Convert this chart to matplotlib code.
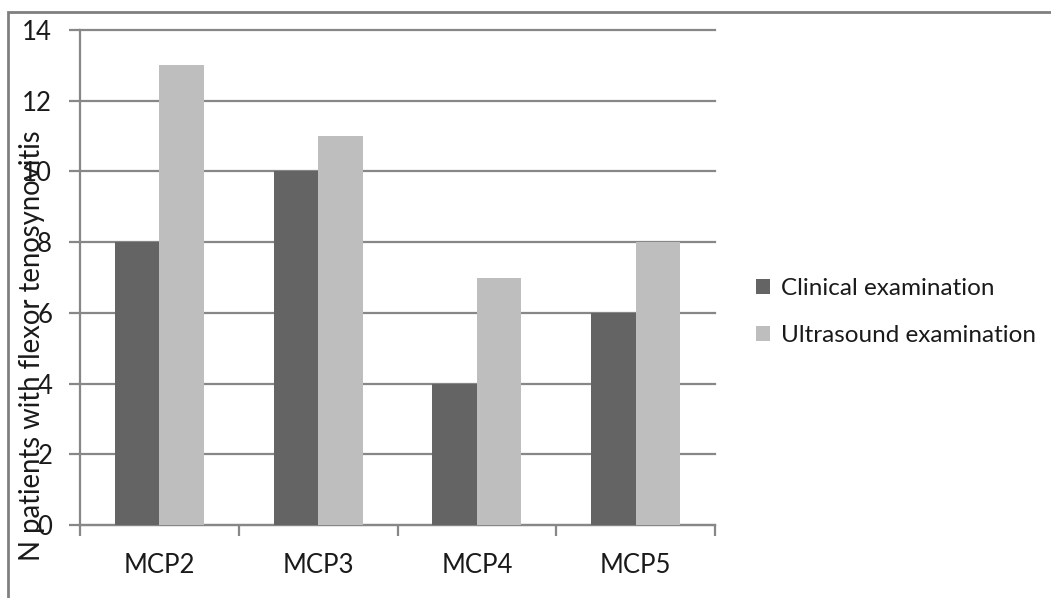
import matplotlib
matplotlib.use("Agg")
import matplotlib.pyplot as plt
from matplotlib.patches import Rectangle
import numpy as np

categories = ["MCP2", "MCP3", "MCP4", "MCP5"]
clinical = [8, 10, 4, 6]
ultrasound = [13, 11, 7, 8]
series_names = ["Clinical examination", "Ultrasound examination"]
yticks = [0, 2, 4, 6, 8, 10, 12, 14]
ylabel = "N patients with flexor tenosynovitis"

plt.rcParams['font.family'] = ['Lato', 'DejaVu Sans']

W, H = 1051, 598
fig = plt.figure(figsize=(W / 100, H / 100), dpi=100)
ax = fig.add_axes([80 / W, 1 - 525 / H, (715 - 80) / W, (525 - 30) / H])

dark = "#646464"
light = "#bebebe"
grid_c = "#878787"
txt_c = "#1a1a1a"
fs = 18.5

x = np.arange(len(categories))
bw = 0.28
ax.bar(x - bw / 2, clinical, bw, color=dark, label=series_names[0], zorder=3)
ax.bar(x + bw / 2, ultrasound, bw, color=light, label=series_names[1], zorder=3)

ax.set_xlim(-0.5, len(categories) - 0.5)
ax.set_ylim(0, 14)
ax.set_yticks(yticks)
ax.set_yticklabels([str(v) for v in yticks], fontsize=fs, color=txt_c)
ax.yaxis.grid(True, color=grid_c, linewidth=1.6, zorder=0)
ax.set_axisbelow(True)
ax.tick_params(axis='y', length=8, width=1.6, color=grid_c, pad=12)

ax.set_xticks(x)
ax.set_xticklabels(categories, fontsize=fs, color=txt_c)
ax.tick_params(axis='x', length=0, pad=20)
ax.set_xticks(np.arange(-0.5, len(categories)), minor=True)
ax.tick_params(axis='x', which='minor', length=8, width=1.6, color=grid_c)

for s in ['top', 'right']:
    ax.spines[s].set_visible(False)
for s in ['left', 'bottom']:
    ax.spines[s].set_color(grid_c)
    ax.spines[s].set_linewidth(1.6)

for line in ax.get_ygridlines():
    line.set_clip_on(False)

fig.text(32 / W, 1 - 346 / H, ylabel, rotation=90, fontsize=19.8,
         color=txt_c, ha='center', va='center')

leg = ax.legend(loc='center left', bbox_to_anchor=(1.05, 0.43), frameon=False,
                fontsize=17.5, handlelength=0.55, handleheight=0.55,
                handletextpad=0.45, labelspacing=1.05, borderaxespad=0)
for t in leg.get_texts():
    t.set_color(txt_c)

fig.add_artist(Rectangle((8 / W, -0.05), 1.1, 1 - 12 / H + 0.05,
                         transform=fig.transFigure, fill=False,
                         edgecolor="#808080", linewidth=2, clip_on=False))

fig.savefig("out.png", dpi=100)
